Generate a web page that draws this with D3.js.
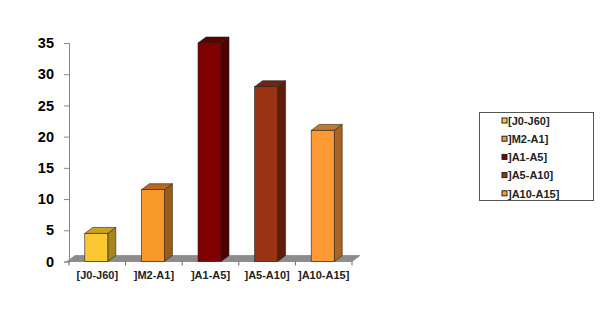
<!DOCTYPE html>
<html><head><meta charset="utf-8">
<script src="https://cdn.jsdelivr.net/npm/d3@7"></script>
<style>body{margin:0;background:#fff}svg{display:block;font-family:Arial,"Liberation Sans",sans-serif}</style>
</head><body><svg id="c" width="600" height="316"></svg>
<script>
const categories = ["[J0-J60]", "]M2-A1]", "]A1-A5]", "]A5-A10]", "]A10-A15]"];
const values = [4.5, 11.5, 35, 28, 21];
const yTicks = [0, 5, 10, 15, 20, 25, 30, 35];
const frontColors = ["#f9c832", "#f7982a", "#800000", "#993311", "#ff9933"];
const sideColors = ["#a8861e", "#9c5c18", "#4a0000", "#5a1e0a", "#a86420"];
const topColors = ["#c9a224", "#b8681c", "#5c0000", "#6e2610", "#c07a2a"];

const svg = d3.select("#c");
const x = d3.scaleBand().domain(categories).range([69, 352]);
const y = d3.scaleLinear().domain([0, 35]).range([261.5, 43]);
const dx = 8, dy = -6;
const bw = 23;

// floor
const x0 = x.range()[0], x1 = x.range()[1], y0 = y(0);
svg.append("path")
  .attr("d", `M${x0-2},${y0} L${x1},${y0} L${x1+dx},${y0+dy} L${x0-2+dx},${y0+dy} Z`)
  .attr("fill", "#8c8c8c").attr("stroke", "#777").attr("stroke-width", 0.6);

// y axis
const yAxis = d3.axisLeft(y).tickValues(yTicks).tickSize(5).tickPadding(10);
const gy = svg.append("g").attr("transform", `translate(${x0},0)`).call(yAxis);
gy.select(".domain").attr("stroke", "#888");
gy.selectAll(".tick line").attr("stroke", "#888");
gy.selectAll(".tick text").attr("font-size", 14.5).attr("font-weight", "bold").attr("fill", "#000")
  .attr("font-family", "Arial, 'Liberation Sans', sans-serif");

// x axis ticks at band boundaries
const bounds = categories.map(c => x(c)).concat([x1]);
svg.selectAll(".xt").data(bounds).join("line")
  .attr("x1", d => d).attr("x2", d => d).attr("y1", y0).attr("y2", y0 + 4)
  .attr("stroke", "#666");
svg.append("line").attr("x1", x0).attr("x2", x1).attr("y1", y0).attr("y2", y0).attr("stroke", "#888").attr("stroke-width", 0.6);
svg.selectAll(".xl").data(categories).join("text")
  .attr("x", d => x(d) + x.bandwidth() / 2).attr("y", 278.5)
  .attr("text-anchor", "middle").attr("font-size", 11).attr("font-weight", "bold").attr("fill", "#222")
  .text(d => d);

// bars
const bars = svg.selectAll(".bar").data(categories).join("g");
bars.each(function(c, i) {
  const g = d3.select(this);
  const bx = x(c) + x.bandwidth() / 2 - bw / 2 - 1;
  const top = y(values[i]);
  const bot = y0;
  g.append("path").attr("d", `M${bx+bw},${top} L${bx+bw+dx},${top+dy} L${bx+bw+dx},${bot+dy} L${bx+bw},${bot} Z`)
    .attr("fill", sideColors[i]).attr("stroke", "#222").attr("stroke-width", 0.6);
  g.append("path").attr("d", `M${bx},${top} L${bx+dx},${top+dy} L${bx+bw+dx},${top+dy} L${bx+bw},${top} Z`)
    .attr("fill", topColors[i]).attr("stroke", "#222").attr("stroke-width", 0.6);
  g.append("rect").attr("x", bx).attr("y", top).attr("width", bw).attr("height", bot - top)
    .attr("fill", frontColors[i]).attr("stroke", "#222").attr("stroke-width", 0.6);
});

// legend
const lg = svg.append("g");
lg.append("rect").attr("x", 479.5).attr("y", 112.5).attr("width", 114).attr("height", 88)
  .attr("fill", "#fff").attr("stroke", "#555").attr("stroke-width", 1);
const items = lg.selectAll(".li").data(categories).join("g")
  .attr("transform", (d, i) => `translate(502,${121 + i * 18.2})`);
items.append("rect").attr("x", 0).attr("y", -3).attr("width", 5).attr("height", 5)
  .attr("fill", (d, i) => frontColors[i]).attr("stroke", "#222").attr("stroke-width", 1);
items.append("text").attr("x", 6).attr("y", 3.8).attr("font-size", 11).attr("font-weight", "bold")
  .attr("fill", "#222").text(d => d);
</script></body></html>
